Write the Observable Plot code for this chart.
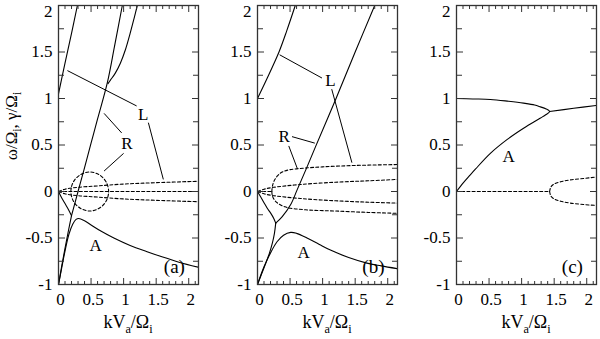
<!DOCTYPE html>
<html><head><meta charset="utf-8">
<script src="https://cdn.jsdelivr.net/npm/d3@7"></script>
<script src="https://cdn.jsdelivr.net/npm/@observablehq/plot@0.6"></script>
<style>
body{margin:0;background:#fff;}
#chart{position:relative;width:600px;height:339px;overflow:hidden;background:#fff;}
#chart svg{position:absolute;top:0;background:transparent;}
</style></head><body><div id="chart"></div>
<script>
// ---------- axis ticks ----------
const xTicks = [0, 0.5, 1, 1.5, 2];
const yTicks = [-1, -0.5, 0, 0.5, 1, 1.5];
const yTopTick = [2];
const xMinorTicks = [0.1,0.2,0.3,0.4,0.6,0.7,0.8,0.9,1.1,1.2,1.3,1.4,1.6,1.7,1.8,1.9,2.1];
const yMinorTicks = [-0.75,-0.25,0.25,0.75,1.25,1.75];

// ---------- panel (a) ----------
const aL = [[0,1.05],[0.1,1.38],[0.2,1.7],[0.29,2.0]];
const aSteep = [[0.2,-0.26],[0.3,0.0],[0.39,0.23],[0.5,0.52],[0.6,0.78],[0.75,1.17],[0.86,1.56],[0.98,2.0]];
const aDown = [[0,0],[0.05,-0.07],[0.1,-0.13],[0.15,-0.19],[0.2,-0.26]];
const aRise = [[0,-1],[0.05,-0.8],[0.1,-0.61],[0.15,-0.43],[0.2,-0.26]];
const aJ = [[0.76,1.16],[0.8,1.2],[0.87,1.27],[0.95,1.38],[1.03,1.53],[1.1,1.7],[1.16,1.86],[1.21,2.0]];
const aA = [[0,-1],[0.05,-0.82],[0.1,-0.64],[0.16,-0.46],[0.22,-0.35],[0.27,-0.3],[0.31,-0.29],[0.4,-0.315],[0.5,-0.36],[0.65,-0.425],[0.85,-0.5],[1.1,-0.58],[1.35,-0.645],[1.6,-0.705],[1.85,-0.76],[2.15,-0.815]];
const aDashUp = [[0,0],[0.1,0.025],[0.3,0.045],[0.6,0.06],[1.0,0.08],[1.5,0.095],[2.15,0.11]];
const aDashZero = [[0,0],[2.15,0]];
const aDashDn = [[0,0],[0.1,-0.025],[0.3,-0.045],[0.6,-0.06],[1.0,-0.08],[1.5,-0.095],[2.15,-0.11]];
const aLoop = [[0.77,0],[0.73,0.105],[0.625,0.18],[0.48,0.21],[0.335,0.18],[0.23,0.105],[0.19,0],[0.23,-0.105],[0.335,-0.18],[0.48,-0.21],[0.625,-0.18],[0.73,-0.105]];
const aPointers = [[1.2,0.92,0.137,1.3],[1.38,0.74,1.61,0.13],[0.97,0.63,0.7,0.84],[1.0,0.41,0.7,0.22]];
const aLabels = [["L",1.3,0.83],["R",1.05,0.52],["A",0.57,-0.58]];

// ---------- panel (b) ----------
const bL = [[0,1],[0.15,1.22],[0.33,1.5],[0.45,1.73],[0.58,2.0]];
const bSteep = [[0.28,-0.34],[0.38,-0.27],[0.51,-0.14],[0.61,0.02],[0.74,0.23],[0.89,0.48],[1.2,0.99],[1.5,1.5],[1.8,2.0]];
const bDown = [[0,0],[0.05,-0.06],[0.1,-0.12],[0.15,-0.18],[0.2,-0.23],[0.25,-0.29],[0.28,-0.34]];
const bRise = [[0,-1],[0.1,-0.82],[0.18,-0.67],[0.23,-0.55],[0.26,-0.45],[0.28,-0.34]];
const bA = [[0,-1],[0.1,-0.81],[0.2,-0.66],[0.3,-0.54],[0.4,-0.47],[0.51,-0.44],[0.6,-0.45],[0.76,-0.5],[0.95,-0.57],[1.12,-0.63],[1.4,-0.71],[1.68,-0.77],[1.9,-0.8],[2.15,-0.83]];
const bDashOutUp = [[0.22,0],[0.23,0.06],[0.26,0.12],[0.31,0.17],[0.38,0.21],[0.5,0.235],[0.7,0.25],[1.0,0.265],[1.5,0.28],[2.15,0.29]];
const bDashOutDn = [[0.22,0],[0.23,-0.05],[0.27,-0.1],[0.33,-0.135],[0.42,-0.165],[0.51,-0.18],[0.8,-0.2],[1.2,-0.21],[1.7,-0.225],[2.15,-0.235]];
const bDashInUp = [[0,0],[0.1,0.025],[0.25,0.045],[0.66,0.075],[1.2,0.1],[1.7,0.115],[2.15,0.13]];
const bDashInDn = [[0,0],[0.1,-0.025],[0.25,-0.045],[0.66,-0.075],[1.2,-0.1],[1.7,-0.115],[2.15,-0.125]];
const bDashZero = [[0,0],[0.22,0]];
const bPointers = [[0.99,1.22,0.34,1.47],[1.14,1.1,1.45,0.31],[0.53,0.59,0.88,0.52],[0.48,0.49,0.61,0.25]];
const bLabels = [["L",1.12,1.19],["R",0.41,0.59],["A",0.71,-0.66]];

// ---------- panel (c) ----------
const cNose = [[0,1],[0.25,0.995],[0.52,0.99],[0.8,0.97],[1.03,0.95],[1.2,0.93],[1.29,0.91],[1.37,0.89],[1.43,0.86],[1.37,0.825],[1.29,0.79],[1.03,0.68],[0.78,0.56],[0.52,0.41],[0.29,0.24],[0.2,0.17],[0.1,0.09],[0,0]];
const cRight = [[1.43,0.86],[1.8,0.895],[2.15,0.925]];
const cDashZero = [[0,0],[1.43,0]];
const cDashUp = [[1.43,0],[1.45,0.05],[1.5,0.08],[1.6,0.105],[1.75,0.125],[1.95,0.14],[2.15,0.155]];
const cDashDn = [[1.43,0],[1.45,-0.05],[1.5,-0.08],[1.6,-0.105],[1.75,-0.125],[1.95,-0.14],[2.15,-0.15]];
const cLabels = [["A",0.8,0.38]];

const panelTags = ["(a)","(b)","(c)"];
const tagPos = [1.78,-0.81];

const FONT = '"Liberation Serif","Times New Roman",serif';
const INK = "#000";
const FRAME = "#333";

function panel({left, solids, dashes, loops, pointers, labels, tag, yTitle}) {
  const W = 199, ML = 58, MR = 1, MT = 5, MB = 55, H = 339;
  const fmt = d => String(d);
  const none = () => "";
  const P = d => d[0], Q = d => d[1];
  const marks = [];
  for (const s of solids) marks.push(Plot.line(s, {x: P, y: Q, curve: "catmull-rom", stroke: INK, strokeWidth: 1.1, clip: true}));
  for (const s of dashes) marks.push(Plot.line(s, {x: P, y: Q, curve: "catmull-rom", stroke: INK, strokeWidth: 1.1, strokeDasharray: "3,2.2", clip: true}));
  for (const s of loops) marks.push(Plot.line(s, {x: P, y: Q, curve: "catmull-rom-closed", stroke: INK, strokeWidth: 1.1, strokeDasharray: "3,2.2", clip: true}));
  marks.push(Plot.link(pointers, {x1: d => d[0], y1: d => d[1], x2: d => d[2], y2: d => d[3], stroke: INK, strokeWidth: 1}));
  marks.push(Plot.text(labels, {x: d => d[1], y: d => d[2], text: d => d[0], fontSize: 17, fontFamily: FONT, fill: INK}));
  marks.push(Plot.text([tag], {x: () => tagPos[0], y: () => tagPos[1], text: d => d, fontSize: 19, fontFamily: FONT, fill: INK}));
  const tk = {label: null, tickFormat: none, stroke: FRAME, strokeWidth: 1};
  const allY = yTicks.concat(yTopTick);
  const lab = {label: null, tickSize: 0, tickFormat: fmt, fontSize: 17, fontFamily: FONT, fill: INK};
  marks.push(
    Plot.axisX(xTicks, {...tk, anchor: "bottom", tickSize: -6}),
    Plot.axisX(xMinorTicks, {...tk, anchor: "bottom", tickSize: -3}),
    Plot.axisX(xTicks, {...tk, anchor: "top", tickSize: -6}),
    Plot.axisX(xMinorTicks, {...tk, anchor: "top", tickSize: -3}),
    Plot.axisY(allY, {...tk, anchor: "left", tickSize: -7}),
    Plot.axisY(yMinorTicks, {...tk, anchor: "left", tickSize: -6}),
    Plot.axisY(allY, {...tk, anchor: "right", tickSize: -7}),
    Plot.axisY(yMinorTicks, {...tk, anchor: "right", tickSize: -6}),
    Plot.axisX(xTicks, {...lab, anchor: "bottom", tickPadding: 8, dx: 2}),
    Plot.axisY(yTicks, {...lab, anchor: "left", tickPadding: 6}),
    Plot.axisY(yTopTick, {...lab, anchor: "left", tickPadding: 6, dy: 6}),
    Plot.frame({stroke: FRAME, strokeWidth: 1.3})
  );
  const svg = Plot.plot({
    width: W, height: H, marginLeft: ML, marginRight: MR, marginTop: MT, marginBottom: MB,
    x: {domain: [0, 2.15], axis: null},
    y: {domain: [-1, 2], axis: null},
    style: {fontFamily: FONT, fontSize: "17px", background: "transparent", color: INK, overflow: "visible"},
    marks
  });
  svg.style.left = left + "px";
  d3.select(svg).selectAll("text").style("font-family", FONT);
  d3.select(svg).selectAll('g[aria-label$="tick label"]').style("font-size", "17px").style("font-variant", "normal");
  const cx = ML + (W - ML - MR) / 2;
  subText(svg, `translate(${cx},328)`, [["kV"],["a",1],["/Ω"],["i",1]], 18);
  if (yTitle) subText(svg, `translate(17,126) rotate(-90)`, [["ω/Ω"],["i",1],[", γ/Ω"],["i",1]], 17);
  return svg;
}

function subText(svg, transform, parts, size) {
  const t = d3.select(svg).append("text")
    .attr("transform", transform).attr("text-anchor", "middle")
    .style("font-family", FONT).attr("font-size", size).attr("fill", INK);
  let shifted = false;
  for (const [s, sub] of parts) {
    const ts = t.append("tspan").text(s);
    if (sub && !shifted) { ts.attr("dy", size * 0.25).attr("font-size", size * 0.68); shifted = true; }
    else if (!sub && shifted) { ts.attr("dy", -size * 0.25); shifted = false; }
    else if (sub) ts.attr("font-size", size * 0.68);
  }
}

const chart = document.getElementById("chart");
chart.append(panel({left: 0, solids: [aL, aSteep, aDown, aRise, aJ, aA], dashes: [aDashUp, aDashZero, aDashDn], loops: [aLoop], pointers: aPointers, labels: aLabels, tag: panelTags[0], yTitle: true}));
chart.append(panel({left: 199, solids: [bL, bSteep, bDown, bRise, bA], dashes: [bDashOutUp, bDashOutDn, bDashInUp, bDashInDn, bDashZero], loops: [], pointers: bPointers, labels: bLabels, tag: panelTags[1]}));
chart.append(panel({left: 398, solids: [cNose, cRight], dashes: [cDashZero, cDashUp, cDashDn], loops: [], pointers: [], labels: cLabels, tag: panelTags[2]}));
</script></body></html>
